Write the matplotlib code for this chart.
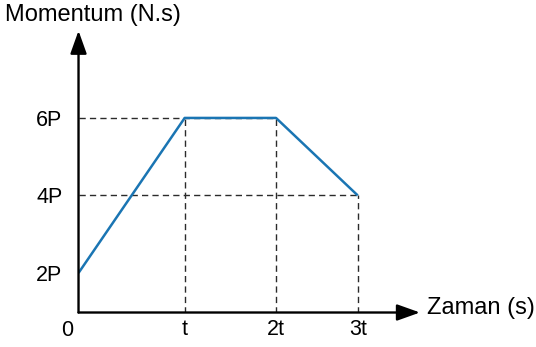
import matplotlib
matplotlib.use('Agg')
import matplotlib.pyplot as plt

plt.rcParams['font.family'] = ['Liberation Sans', 'DejaVu Sans']

# data (time in units of t, as drawn; momentum in units of P)
time = [0, 1.0, 1.86, 2.63]
momentum = [2, 6, 6, 4]
time_ticks = [1.0, 1.86, 2.63]
time_labels = ['t', '2t', '3t']
mom_ticks = [2, 4, 6]
mom_labels = ['2P', '4P', '6P']

blue = '#1a75b3'
dash = '#2b2b2b'

fig = plt.figure(figsize=(5.36, 3.47), dpi=100)
ax = fig.add_axes([0.1465, 0.0994, 0.637, 0.812])
ax.set_xlim(0, 3.216)
ax.set_ylim(0.979, 8.25)
for s in ax.spines.values():
    s.set_visible(False)

# guide lines
for x, y in zip(time[1:], momentum[1:]):
    ax.plot([x, x], [0.979, y], ls=(0, (4.5, 3)), color=dash, lw=1.0)
for y in sorted(set(momentum[1:])):
    xr = max(x for x, v in zip(time, momentum) if v == y)
    ax.plot([0, xr], [y, y], ls=(0, (4.5, 3)), color=dash, lw=1.0)

ax.plot(time, momentum, color=blue, lw=1.8, solid_capstyle='butt', zorder=3)

# axes with arrows
arr = dict(arrowstyle='-|>,head_length=1.4,head_width=0.5', color='black',
           lw=1.7, shrinkA=0, shrinkB=0)
ax.annotate('', xy=(1, 0), xytext=(0, 0), xycoords='axes fraction',
            arrowprops=arr, annotation_clip=False)
ax.annotate('', xy=(0, 1), xytext=(0, 0), xycoords='axes fraction',
            arrowprops=arr, annotation_clip=False)

ax.set_xticks(time_ticks)
ax.set_xticklabels(time_labels)
ax.set_yticks(mom_ticks)
ax.set_yticklabels(mom_labels)
ax.tick_params(axis='both', length=0, labelsize=15.5)
ax.tick_params(axis='x', pad=5)
ax.tick_params(axis='y', pad=11.5)

fig.text(67 / 536, 1 - 331 / 347, '0', fontsize=15.5, ha='center', va='center')
fig.text(5 / 536, 1 - 15 / 347, 'Momentum (N.s)', fontsize=17, ha='left', va='center')
fig.text(427 / 536, 1 - 308 / 347, 'Zaman (s)', fontsize=17, ha='left', va='center')

fig.savefig('out.png', dpi=100)
